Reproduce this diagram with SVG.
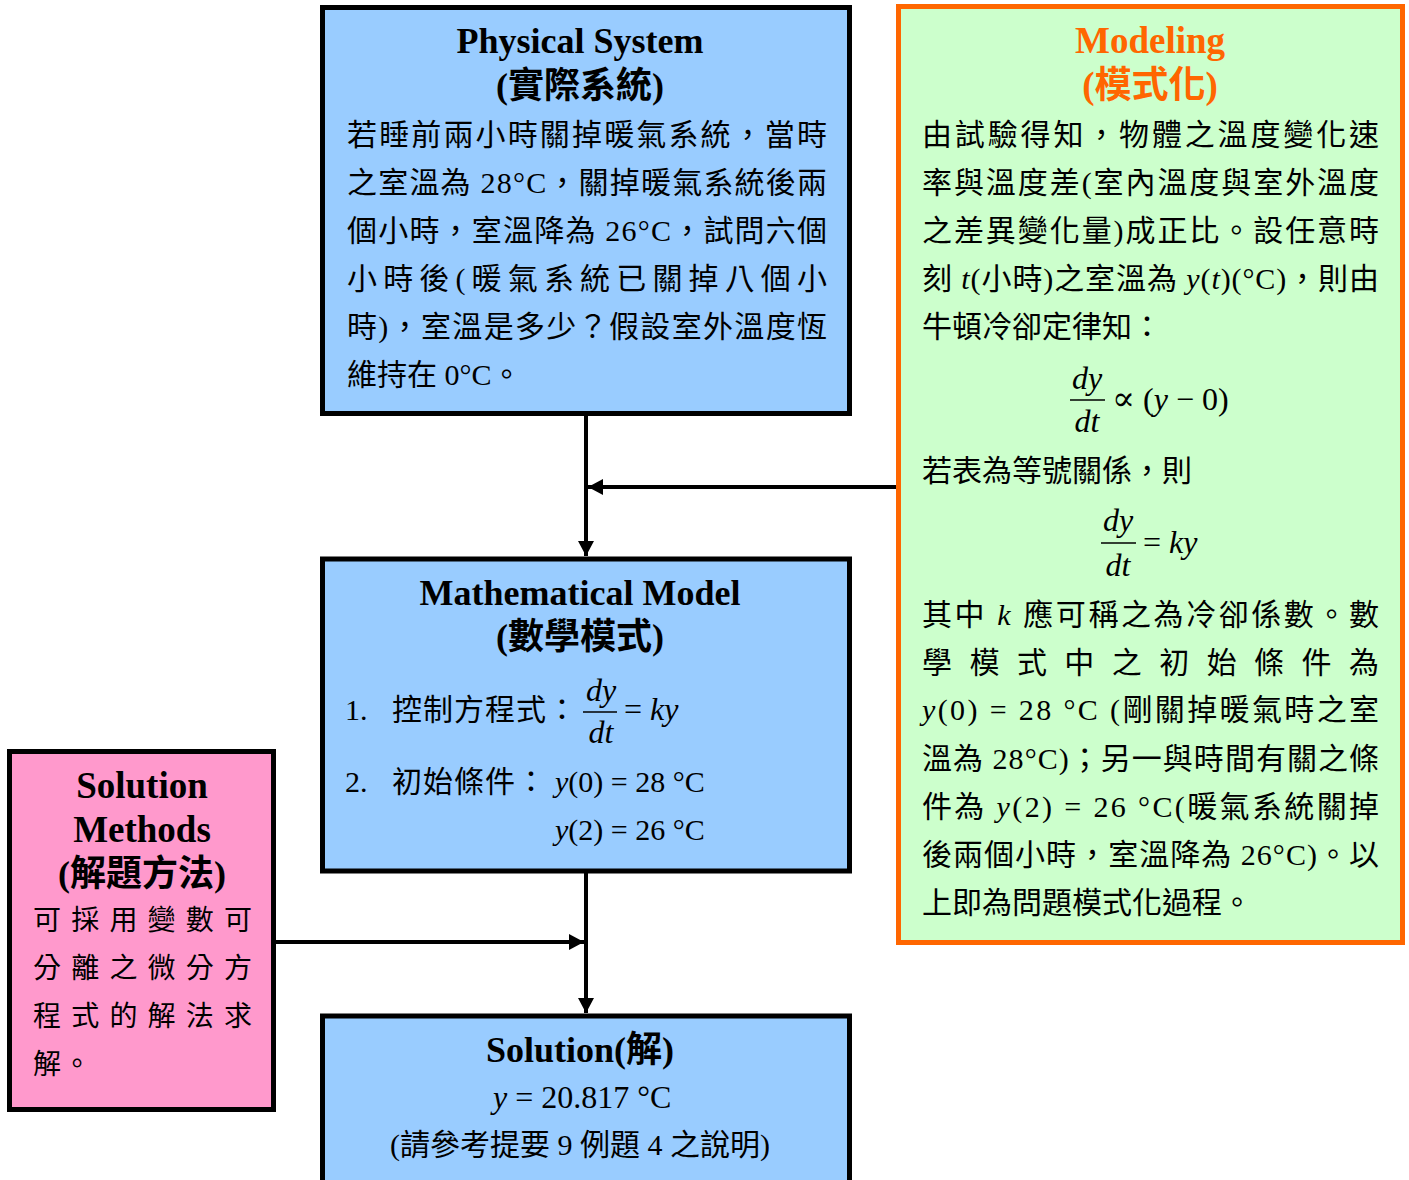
<svg xmlns="http://www.w3.org/2000/svg" width="1409" height="1180" viewBox="0 0 1409 1180">
<style>
text{font-family:'Liberation Serif','Noto Sans CJK TC',serif;font-size:30px;fill:#000}
.t{font-weight:bold;font-size:36px;text-anchor:middle}
.o{fill:#FF6600}
.i{font-style:italic}
.m{text-anchor:middle}
.s{font-size:28px}
.f{font-size:32px}
.box{stroke:#000;stroke-width:5}
.blue{fill:#99CCFF}
.fr{stroke:#000;stroke-width:1.5}
.con{fill:none;stroke:#000;stroke-width:4;marker-end:url(#ah)}
</style>
<defs>
<marker id="ah" markerUnits="userSpaceOnUse" markerWidth="15" markerHeight="16" refX="15" refY="8" orient="auto">
<path d="M0,0 L15,8 L0,16 z" fill="#000"/>
</marker>
</defs>
<rect width="1409" height="1180" fill="#fff"/>

<g id="physical-system">
<rect class="box blue" x="322.5" y="7.5" width="527" height="406"/>
<text class="t" x="580" y="53">Physical System</text>
<text class="t" x="580" y="98">(實際系統)</text>
<text x="347" y="145" textLength="480" lengthAdjust="spacing">若睡前兩小時關掉暖氣系統，當時</text>
<text x="347" y="193" textLength="480" lengthAdjust="spacing">之室溫為 28°C，關掉暖氣系統後兩</text>
<text x="347" y="241" textLength="480" lengthAdjust="spacing">個小時，室溫降為 26°C，試問六個</text>
<text x="347" y="289" textLength="480" lengthAdjust="spacing">小時後(暖氣系統已關掉八個小</text>
<text x="347" y="337" textLength="480" lengthAdjust="spacing">時)，室溫是多少？假設室外溫度恆</text>
<text x="347" y="385">維持在 0°C。</text>
</g>

<g id="modeling">
<rect x="898.5" y="6.5" width="504" height="936" fill="#CCFFCC" stroke="#FF6600" stroke-width="5"/>
<text class="t o" x="1150" y="53" style="font-size:37px">Modeling</text>
<text class="t o" x="1150" y="98" style="font-size:37px">(模式化)</text>
<text x="922" y="145" textLength="457" lengthAdjust="spacing">由試驗得知，物體之溫度變化速</text>
<text x="922" y="193" textLength="457" lengthAdjust="spacing">率與溫度差(室內溫度與室外溫度</text>
<text x="922" y="241" textLength="457" lengthAdjust="spacing">之差異變化量)成正比。設任意時</text>
<text x="922" y="289" textLength="457" lengthAdjust="spacing">刻 <tspan class="i">t</tspan>(小時)之室溫為 <tspan class="i">y</tspan>(<tspan class="i">t</tspan>)(°C)，則由</text>
<text x="922" y="337">牛頓冷卻定律知：</text>
<text class="i m f" x="1087" y="389">dy</text>
<line class="fr" x1="1070" y1="400" x2="1105" y2="400"/>
<text class="i m f" x="1087" y="432">dt</text>
<text class="f" x="1112" y="410"><tspan style="font-family:'DejaVu Serif',serif;font-size:34px">∝</tspan> (<tspan class="i">y</tspan> − 0)</text>
<text x="922" y="481">若表為等號關係，則</text>
<text class="i m f" x="1118" y="531">dy</text>
<line class="fr" x1="1101" y1="543" x2="1136" y2="543"/>
<text class="i m f" x="1118" y="576">dt</text>
<text class="f" x="1143" y="553">= <tspan class="i">ky</tspan></text>
<text x="922" y="625" textLength="457" lengthAdjust="spacing">其中 <tspan class="i">k</tspan> 應可稱之為冷卻係數。數</text>
<text x="922" y="673" textLength="457" lengthAdjust="spacing">學模式中之初始條件為</text>
<text x="922" y="720" textLength="457" lengthAdjust="spacing"><tspan class="i">y</tspan>(0) = 28 °C (剛關掉暖氣時之室</text>
<text x="922" y="769" textLength="457" lengthAdjust="spacing">溫為 28°C)；另一與時間有關之條</text>
<text x="922" y="817" textLength="457" lengthAdjust="spacing">件為 <tspan class="i">y</tspan>(2) = 26 °C(暖氣系統關掉</text>
<text x="922" y="865" textLength="457" lengthAdjust="spacing">後兩個小時，室溫降為 26°C)。以</text>
<text x="922" y="913">上即為問題模式化過程。</text>
</g>

<g id="mathematical-model">
<rect class="box blue" x="322.5" y="559" width="527" height="312"/>
<text class="t" x="580" y="605">Mathematical Model</text>
<text class="t" x="580" y="649">(數學模式)</text>
<text x="345" y="720">1.</text>
<text x="392" y="720" letter-spacing="1">控制方程式：</text>
<text class="i m f" x="601" y="701">dy</text>
<line class="fr" x1="583" y1="712" x2="617" y2="712"/>
<text class="i m f" x="601" y="743">dt</text>
<text class="f" x="624" y="720">= <tspan class="i">ky</tspan></text>
<text x="345" y="792">2.</text>
<text x="392" y="792" letter-spacing="1">初始條件：</text>
<text x="555" y="792"><tspan class="i">y</tspan>(0) = 28 °C</text>
<text x="555" y="840"><tspan class="i">y</tspan>(2) = 26 °C</text>
</g>

<g id="solution-methods">
<rect class="box" fill="#FF99CC" x="9.5" y="751.5" width="264" height="358"/>
<text class="t" x="142" y="798" style="font-size:37px">Solution</text>
<text class="t" x="142" y="842" style="font-size:37px">Methods</text>
<text class="t" x="142" y="886">(解題方法)</text>
<text class="s" x="33" y="930" textLength="219" lengthAdjust="spacing">可採用變數可</text>
<text class="s" x="33" y="978" textLength="219" lengthAdjust="spacing">分離之微分方</text>
<text class="s" x="33" y="1026" textLength="219" lengthAdjust="spacing">程式的解法求</text>
<text class="s" x="33" y="1074" letter-spacing="2">解。</text>
</g>

<g id="solution">
<rect class="box blue" x="322.5" y="1016" width="527" height="200"/>
<text class="t" x="580" y="1062">Solution(解)</text>
<text class="f" x="493" y="1108"><tspan class="i">y</tspan> = 20.817 °C</text>
<text class="m" x="580" y="1155">(請參考提要 9 例題 4 之說明)</text>
</g>

<g id="connectors">
<path class="con" d="M586,416 V556"/>
<path class="con" d="M896,487 H588"/>
<path class="con" d="M586,873 V1013"/>
<path class="con" d="M276,942 H584"/>
</g>
</svg>
